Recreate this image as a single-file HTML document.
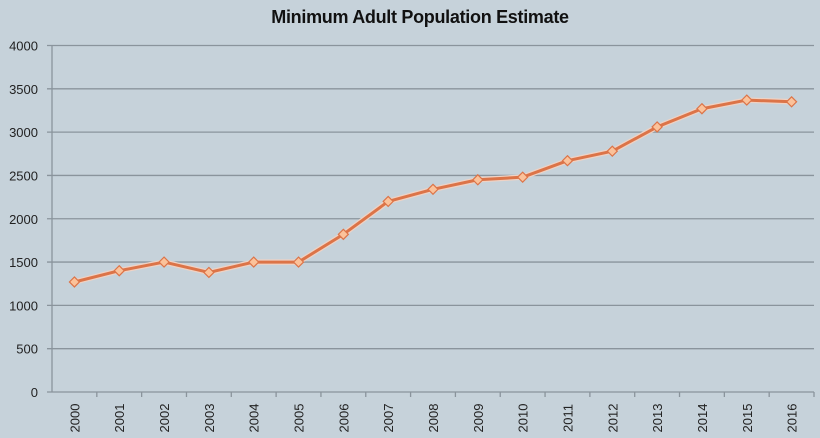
<!DOCTYPE html>
<html><head><meta charset="utf-8"><style>
body{margin:0;background:#c6d2da;}
svg{display:block;font-family:"Liberation Sans",Arial,sans-serif;}
</style></head><body>
<svg id="chart" width="820" height="438" viewBox="0 0 820 438">
<rect width="820" height="438" fill="#c6d2da"/>
<text x="420" y="23" text-anchor="middle" font-size="18" font-weight="bold" fill="#111" letter-spacing="-0.3">Minimum Adult Population Estimate</text>
<g id="grid"></g><g id="axes"></g><g id="series"></g>
</svg>
<script>
const categories=["2000","2001","2002","2003","2004","2005","2006","2007","2008","2009","2010","2011","2012","2013","2014","2015","2016"];
const values=[1270,1400,1500,1380,1500,1500,1820,2200,2340,2450,2480,2670,2780,3060,3270,3370,3350];
const yTicks=[0,500,1000,1500,2000,2500,3000,3500,4000];
const NS="http://www.w3.org/2000/svg";
const x0=52,x1=814,y0=392,y1=45.5,ymax=4000;
const step=(x1-x0)/categories.length;
function xs(i){return x0+step*(i+0.5);}
function ys(v){return y0-(v/ymax)*(y0-y1);}
function mk(tag,a,p){const e=document.createElementNS(NS,tag);for(const k in a)e.setAttribute(k,a[k]);p.appendChild(e);return e;}
const grid=document.getElementById('grid'),axes=document.getElementById('axes'),ser=document.getElementById('series');
yTicks.forEach(t=>{
  const y=ys(t);
  const l=mk('line',{x1:x0-5,x2:x1,y1:y,y2:y,stroke:'#8a949c','stroke-width':1.3},grid);
  
  
  const tx=mk('text',{x:38,y:y+5,'text-anchor':'end','font-size':13,fill:'#222'},axes);
  tx.textContent=t;
  
  
});
const ya=mk('line',{x1:x0,x2:x0,y1:y1,y2:y0,stroke:'#8a949c','stroke-width':1.3},axes);


categories.forEach((c,i)=>{
  const tk=mk('line',{x1:x0+step*(i+1),x2:x0+step*(i+1),y1:y0,y2:y0+5,stroke:'#8a949c','stroke-width':1.3},axes);
  
  
  const x=xs(i)+0.5;
  const t=mk('text',{x:x,y:418,'text-anchor':'middle','font-size':13,fill:'#222',transform:'rotate(-90 '+x+' 418)',dy:'4.5'},axes);
  t.textContent=c;
  
  
});
const pts=values.map((v,i)=>xs(i)+','+ys(v)).join(' ');
const sh=mk('polyline',{points:pts,fill:'none',stroke:'#efd2c4','stroke-width':5.5,'stroke-linejoin':'round'},ser);


const ln=mk('polyline',{points:pts,fill:'none',stroke:'#dc7448','stroke-width':3,'stroke-linejoin':'round'},ser);


values.forEach((v,i)=>{
  const x=xs(i),y=ys(v);
  const d=mk('polygon',{points:`${x},${y-5} ${x+5},${y} ${x},${y+5} ${x-5},${y}`,fill:'#fbc29a',stroke:'#dc7448','stroke-width':1.2},ser);
  
  
});
</script>
</body></html>
